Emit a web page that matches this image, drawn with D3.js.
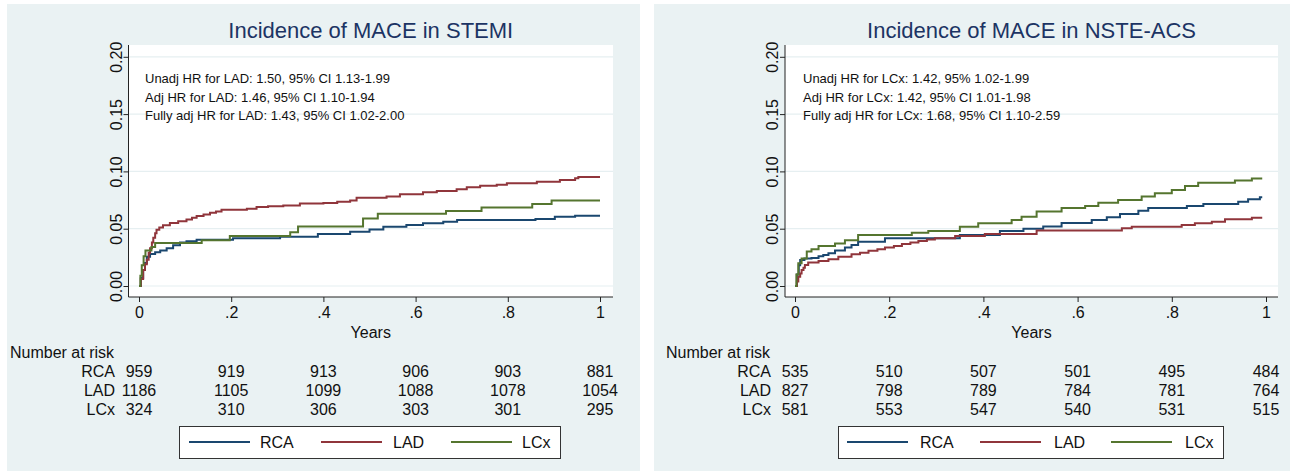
<!DOCTYPE html>
<html lang="en">
<head>
<meta charset="utf-8">
<title>Incidence of MACE</title>
<script src="https://cdn.jsdelivr.net/npm/d3@7/dist/d3.min.js"></script>
<style>
    body { margin: 0; background: #fff; }
    svg { display: block; font-family: "Liberation Sans", Arial, Helvetica, sans-serif; }
    .axis path, .axis line { stroke: #222; }
    .axis text { font-size: 16px; fill: #111; }
</style>
</head>
<body>
<svg width="1295" height="475"></svg>
<script>
// ---- data ----
const groups = ["RCA", "LAD", "LCx"];
const xTicks = [0, 0.2, 0.4, 0.6, 0.8, 1];
const xTickLabels = ["0", ".2", ".4", ".6", ".8", "1"];
const yTicks = [0, 0.05, 0.10, 0.15, 0.20];

// STEMI cumulative incidence [years, value]
const stemiRCA = [[0,0],[0.004,0.007],[0.009,0.014],[0.013,0.02],[0.017,0.0256],[0.024,0.028],[0.035,0.0294],[0.046,0.031],[0.06,0.033],[0.074,0.0355],[0.089,0.038],[0.103,0.039],[0.125,0.0404],[0.204,0.0416],[0.306,0.043],[0.388,0.0454],[0.458,0.0474],[0.50,0.0494],[0.53,0.0518],[0.58,0.0532],[0.616,0.0547],[0.66,0.056],[0.69,0.0576],[0.86,0.0585],[0.902,0.0605],[0.946,0.0612],[1.0,0.0612]];
const stemiLAD = [[0,0],[0.004,0.006],[0.009,0.014],[0.013,0.019],[0.017,0.023],[0.021,0.029],[0.024,0.033],[0.028,0.038],[0.031,0.042],[0.035,0.046],[0.038,0.049],[0.044,0.051],[0.052,0.053],[0.067,0.055],[0.085,0.0565],[0.103,0.058],[0.115,0.0595],[0.125,0.061],[0.14,0.0625],[0.154,0.064],[0.167,0.065],[0.179,0.0665],[0.234,0.0675],[0.255,0.069],[0.28,0.0695],[0.313,0.0703],[0.349,0.072],[0.40,0.0725],[0.43,0.0735],[0.458,0.0745],[0.472,0.077],[0.537,0.078],[0.566,0.080],[0.616,0.0817],[0.646,0.083],[0.689,0.0844],[0.711,0.0861],[0.74,0.0875],[0.776,0.0884],[0.798,0.0896],[0.863,0.091],[0.913,0.0925],[0.946,0.094],[0.953,0.0952],[1.0,0.0952]];
const stemiLCx = [[0,0],[0.003,0.009],[0.006,0.018],[0.01,0.026],[0.014,0.031],[0.027,0.034],[0.035,0.0375],[0.136,0.040],[0.197,0.0436],[0.328,0.047],[0.345,0.052],[0.486,0.059],[0.518,0.063],[0.666,0.0655],[0.743,0.0685],[0.853,0.0716],[0.895,0.0745],[1.0,0.0745]];

// NSTE-ACS cumulative incidence [years, value]
const nsteRCA = [[0,0],[0.004,0.01],[0.008,0.018],[0.011,0.0227],[0.02,0.024],[0.035,0.0245],[0.05,0.026],[0.06,0.027],[0.071,0.0285],[0.085,0.031],[0.106,0.0337],[0.12,0.0358],[0.134,0.0387],[0.191,0.0416],[0.35,0.0445],[0.435,0.048],[0.485,0.050],[0.527,0.052],[0.566,0.055],[0.63,0.0576],[0.662,0.060],[0.69,0.0628],[0.729,0.0657],[0.75,0.068],[0.832,0.0698],[0.867,0.0716],[0.941,0.0736],[0.962,0.0757],[0.987,0.0774],[0.992,0.0774]];
const nsteLAD = [[0,0],[0.004,0.004],[0.007,0.008],[0.011,0.011],[0.014,0.014],[0.018,0.016],[0.021,0.0183],[0.028,0.0204],[0.05,0.0218],[0.071,0.0233],[0.092,0.0256],[0.12,0.0276],[0.138,0.029],[0.156,0.0308],[0.175,0.032],[0.191,0.0337],[0.21,0.035],[0.227,0.0366],[0.245,0.038],[0.262,0.0393],[0.28,0.0405],[0.297,0.0416],[0.34,0.0436],[0.403,0.0454],[0.513,0.0485],[0.694,0.0503],[0.715,0.0518],[0.821,0.0532],[0.849,0.0547],[0.885,0.056],[0.913,0.0582],[0.97,0.0596],[0.992,0.0596]];
const nsteLCx = [[0,0],[0.003,0.01],[0.007,0.0198],[0.014,0.024],[0.025,0.030],[0.035,0.032],[0.05,0.035],[0.085,0.037],[0.106,0.040],[0.134,0.0445],[0.248,0.0465],[0.283,0.048],[0.35,0.0517],[0.389,0.0547],[0.46,0.0576],[0.481,0.0605],[0.513,0.065],[0.566,0.068],[0.616,0.0698],[0.644,0.0727],[0.686,0.075],[0.736,0.078],[0.764,0.081],[0.80,0.0838],[0.828,0.0873],[0.856,0.090],[0.934,0.092],[0.97,0.0937],[0.992,0.0937]];

// number at risk at xTicks
const stemiRiskRCA = [959, 919, 913, 906, 903, 881];
const stemiRiskLAD = [1186, 1105, 1099, 1088, 1078, 1054];
const stemiRiskLCx = [324, 310, 306, 303, 301, 295];
const nsteRiskRCA = [535, 510, 507, 501, 495, 484];
const nsteRiskLAD = [827, 798, 789, 784, 781, 764];
const nsteRiskLCx = [581, 553, 547, 540, 531, 515];

const stemiNotes = ["Unadj HR for LAD: 1.50, 95% CI 1.13-1.99", "Adj HR for LAD: 1.46, 95% CI 1.10-1.94", "Fully adj HR for LAD: 1.43, 95% CI 1.02-2.00"];
const nsteNotes = ["Unadj HR for LCx: 1.42, 95% 1.02-1.99", "Adj HR for LCx: 1.42, 95% CI 1.01-1.98", "Fully adj HR for LCx: 1.68, 95% CI 1.10-2.59"];

const colors = { RCA: "#1a476f", LAD: "#90353b", LCx: "#55752f" };

const svg = d3.select("svg");

function drawPanel(p) {
    const g = svg.append("g");

    g.append("rect")
        .attr("x", p.bg[0]).attr("y", 4)
        .attr("width", p.bg[1] - p.bg[0]).attr("height", 467)
        .attr("fill", "#eaf2f3");

    const x = d3.scaleLinear().domain([0, 1]).range(p.xRange);
    const y = d3.scaleLinear().domain([0, 0.2]).range([286, 56.8]);

    // plot region
    g.append("rect")
        .attr("x", p.plot[0]).attr("y", 45)
        .attr("width", p.plot[1] - p.plot[0]).attr("height", 297 - 45)
        .attr("fill", "#fff");

    g.append("g")
        .selectAll("line")
        .data(yTicks)
        .enter().append("line")
        .attr("x1", p.plot[0]).attr("x2", p.plot[1])
        .attr("y1", d => y(d)).attr("y2", d => y(d))
        .attr("stroke", "#e6eff1").attr("stroke-width", 1.2);

    // title
    g.append("text")
        .attr("x", (p.plot[0] + p.plot[1]) / 2).attr("y", 38)
        .attr("text-anchor", "middle")
        .style("font-size", "22px").style("fill", "#1c3464")
        .text(p.title);

    // annotations
    g.append("g")
        .selectAll("text")
        .data(p.notes)
        .enter().append("text")
        .attr("x", p.noteX).attr("y", (d, i) => 83 + i * 18.7)
        .style("font-size", "13px").style("fill", "#111")
        .text(d => d);

    // curves
    const line = d3.line()
        .x(d => x(d[0]))
        .y(d => y(d[1]))
        .curve(d3.curveStepAfter);

    groups.forEach(k => {
        g.append("path")
            .datum(p.series[k])
            .attr("fill", "none")
            .attr("stroke", colors[k])
            .attr("stroke-width", 2)
            .attr("d", line);
    });

    // axes
    const yAxis = g.append("g")
        .attr("class", "axis")
        .attr("transform", `translate(${p.plot[0]},0)`)
        .call(d3.axisLeft(y).tickValues(yTicks).tickFormat(d3.format(".2f")).tickSize(5).tickSizeOuter(0));
    yAxis.select(".domain").attr("d", `M0,45V297`);
    yAxis.selectAll("text")
        .attr("x", 0).attr("y", -7).attr("dy", 0)
        .attr("text-anchor", "middle")
        .attr("transform", "rotate(-90)");

    const xAxis = g.append("g")
        .attr("class", "axis")
        .attr("transform", "translate(0,297)")
        .call(d3.axisBottom(x).tickValues(xTicks).tickFormat((d, i) => xTickLabels[i]).tickSize(5).tickSizeOuter(0));
    xAxis.select(".domain").attr("d", `M${p.plot[0]},0H${p.plot[1]}`);
    xAxis.selectAll("text").attr("y", 10).attr("dy", "0.71em");

    g.append("text")
        .attr("x", (p.plot[0] + p.plot[1]) / 2).attr("y", 338)
        .attr("text-anchor", "middle")
        .style("font-size", "16px").style("fill", "#111")
        .text("Years");

    // number at risk
    g.append("text")
        .attr("x", p.narX).attr("y", 358)
        .style("font-size", "16px").style("fill", "#111")
        .text("Number at risk");

    groups.forEach((k, r) => {
        const rowY = 377 + r * 19;
        g.append("text")
            .attr("x", p.labelX).attr("y", rowY)
            .attr("text-anchor", "end")
            .style("font-size", "16px").style("fill", "#111")
            .text(k);
        g.append("g")
            .selectAll("text")
            .data(p.risk[k])
            .enter().append("text")
            .attr("x", (d, i) => x(xTicks[i]))
            .attr("y", rowY)
            .attr("text-anchor", "middle")
            .style("font-size", "16px").style("fill", "#111")
            .text(d => d);
    });

    // legend
    g.append("rect")
        .attr("x", p.legend[0] + 0.5).attr("y", 426.5)
        .attr("width", p.legend[1] - p.legend[0]).attr("height", 32)
        .attr("fill", "#fff").attr("stroke", "#333").attr("stroke-width", 1);

    groups.forEach((k, i) => {
        g.append("line")
            .attr("x1", p.legendLine[i]).attr("x2", p.legendLine[i] + 61)
            .attr("y1", 442).attr("y2", 442)
            .attr("stroke", colors[k]).attr("stroke-width", 2);
        g.append("text")
            .attr("x", p.legendText[i]).attr("y", 448)
            .style("font-size", "16px").style("fill", "#111")
            .text(k);
    });
}

drawPanel({
    title: "Incidence of MACE in STEMI",
    bg: [7, 640], plot: [128.5, 613], xRange: [139, 600],
    noteX: 145, narX: 10, labelX: 115,
    legend: [179, 560], legendLine: [189, 321, 451], legendText: [260, 393, 522],
    notes: stemiNotes,
    series: { RCA: stemiRCA, LAD: stemiLAD, LCx: stemiLCx },
    risk: { RCA: stemiRiskRCA, LAD: stemiRiskLAD, LCx: stemiRiskLCx }
});

drawPanel({
    title: "Incidence of MACE in NSTE-ACS",
    bg: [654, 1290], plot: [785, 1278], xRange: [795, 1266],
    noteX: 803, narX: 666, labelX: 771,
    legend: [838, 1223], legendLine: [847, 980, 1111], legendText: [920, 1054, 1185],
    notes: nsteNotes,
    series: { RCA: nsteRCA, LAD: nsteLAD, LCx: nsteLCx },
    risk: { RCA: nsteRiskRCA, LAD: nsteRiskLAD, LCx: nsteRiskLCx }
});
</script>
</body>
</html>
